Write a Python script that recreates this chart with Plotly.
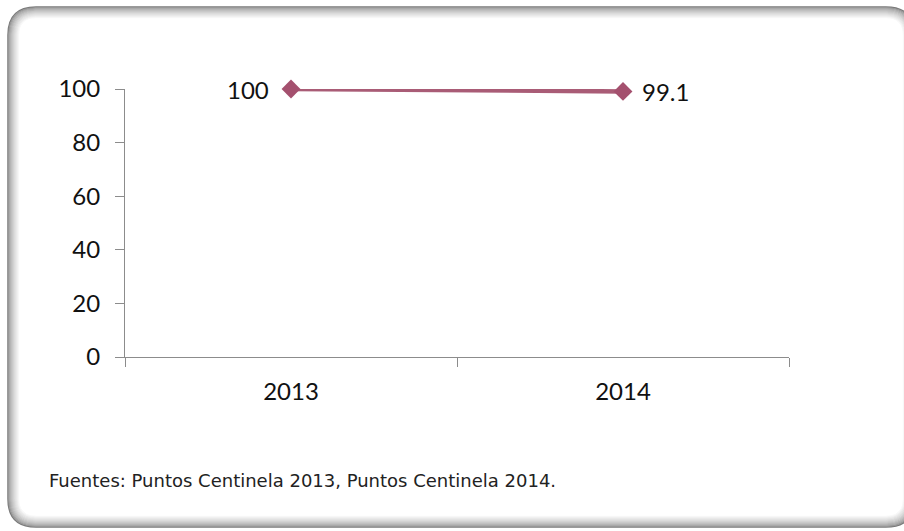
import plotly.graph_objects as go

# Data
years = ["2013", "2014"]
values = [100, 99.1]
y_ticks = [0, 20, 40, 60, 80, 100]
source_note = "Fuentes: Puntos Centinela 2013, Puntos Centinela 2014."

W, H = 904, 531
ML, MR, MT, MB = 125, 115, 89, 174
PW, PH = W - ML - MR, H - MT - MB

FONT = "Lato"
NOTE_FONT = "DejaVu Sans"
LINE_COLOR = "#A95C76"
MARKER_COLOR = "#A4506E"
AXIS_COLOR = "#8C8C8C"


def px_x(px):
    return (px - ML) / PW


def px_y(py):
    return (H - MB - py) / PH


def rounded_rect(l, t, r, b, rad):
    pts = [
        ("M", l + rad, t), ("L", r - rad, t), ("Q", r, t, r, t + rad),
        ("L", r, b - rad), ("Q", r, b, r - rad, b), ("L", l + rad, b),
        ("Q", l, b, l, b - rad), ("L", l, t + rad), ("Q", l, t, l + rad, t),
    ]
    out = []
    for p in pts:
        cmd, coords = p[0], p[1:]
        conv = []
        for i in range(0, len(coords), 2):
            conv.append(f"{px_x(coords[i]):.5f},{px_y(coords[i + 1]):.5f}")
        out.append(cmd + " ".join(conv))
    return " ".join(out) + " Z"


# soft grey rim of the rounded frame
shapes = []
N = 13
for i in range(N):
    t = i / (N - 1)
    g = int(122 + (255 - 122) * t ** 0.6)
    shapes.append(dict(
        type="path", xref="paper", yref="paper", layer="below",
        path=rounded_rect(8 + i, 7 + i, 914 - i, 527 - i, max(28 - i, 6)),
        line=dict(color=f"rgb({g},{g},{g})", width=1.5),
        fillcolor="rgba(0,0,0,0)",
    ))

fig = go.Figure()
fig.add_trace(go.Scatter(
    x=years, y=values, mode="lines+markers",
    line=dict(color=LINE_COLOR, width=4.5),
    marker=dict(symbol="diamond", size=14.5, color=MARKER_COLOR),
    cliponaxis=False, hoverinfo="skip", showlegend=False,
))

annotations = []
for k, v in enumerate(values):
    left = k == 0
    annotations.append(dict(
        x=k, y=v, xref="x", yref="y", text=f"{v:g}", showarrow=False,
        xanchor="right" if left else "left", yanchor="middle",
        xshift=-20 if left else 17,
        font=dict(family=FONT, size=24, color="#111111"),
    ))

annotations.append(dict(
    x=px_x(47), y=px_y(480), xref="paper", yref="paper", text=source_note,
    showarrow=False, xanchor="left", yanchor="middle",
    font=dict(family=NOTE_FONT, size=18, color="#222222"),
))

fig.update_layout(
    width=W, height=H,
    margin=dict(l=ML, r=MR, t=MT, b=MB),
    paper_bgcolor="white", plot_bgcolor="rgba(0,0,0,0)",
    shapes=shapes, annotations=annotations,
    xaxis=dict(
        type="category", range=[-0.5, 1.5], tickson="boundaries",
        ticks="outside", ticklen=9, tickcolor=AXIS_COLOR, tickwidth=1,
        showline=True, linecolor=AXIS_COLOR, linewidth=1,
        showgrid=False, zeroline=False, ticklabelstandoff=13,
        tickfont=dict(family=FONT, size=24, color="#111111"),
    ),
    yaxis=dict(
        range=[0, 100], tickvals=y_ticks,
        ticks="outside", ticklen=9, tickcolor=AXIS_COLOR, tickwidth=1,
        showline=True, linecolor=AXIS_COLOR, linewidth=1,
        showgrid=False, zeroline=False, ticklabelstandoff=10,
        tickfont=dict(family=FONT, size=24, color="#111111"),
    ),
)

fig.write_html("out.html")
